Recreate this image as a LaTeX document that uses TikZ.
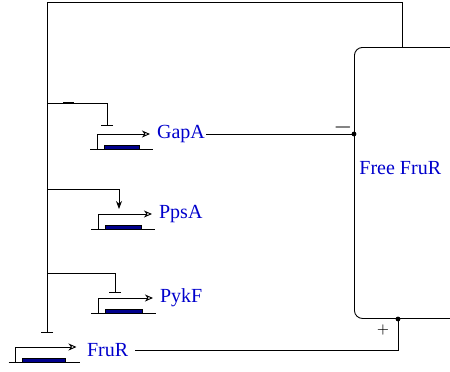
\documentclass[tikz,border=0pt]{standalone}
\usepackage{fontspec}
\setmainfont{Liberation Serif}
\usetikzlibrary{arrows.meta}
\def\genecolor{blue!80!black}
\def\cdscolor{blue!55!black}
\newcommand{\gene}[3]{%
	\draw (#1 - 7, #2 + 15) -- (#1 + #3 + 3, #2 + 15);
	\draw[fill = \cdscolor] (#1 + 7, #2 + 11) rectangle (#1 + #3 - 11, #2 + 15);
	\draw[-{Stealth[open, length = 4pt, width = 3.5pt, inset = 1.2pt]}] (#1, #2 + 15) -- (#1, #2) -- (#1 + #3, #2);
}

\begin{document}
\begin{tikzpicture}[x = 0.5pt, y = -0.5pt, line width = 0.45pt,
		inhibit/.style = {-{Bar[width = 6pt]}},
		activate/.style = {-{Stealth[length = 4pt, width = 3pt]}},
		genename/.style = {text = \genecolor, anchor = west}]
		\clip (0, 0) rectangle (450, 371);
		\gene{97}{134}{53}
		\gene{98}{214}{54}
		\gene{98}{298}{55}
		\gene{15.5}{347}{61}
		\node[genename] (gapA) at (150, 134) {GapA};
		\node[genename] (ppsA) at (152, 214) {PpsA};
		\node[genename] (pykF) at (153, 298) {PykF};
		\node[genename] (frur) at (80, 350) {FruR};
		\node[draw, rounded corners = 4pt, anchor = north west, minimum width = 100pt, minimum height = 135.5pt, inner sep = 0pt] (free) at (354, 47) {};
		\node[text = \genecolor, anchor = west, inner sep = 0pt] (freename) at (359, 168) {Free FruR};
		\coordinate (top) at (47, 2);
		\coordinate (fbtop) at (402, 47);
		\coordinate (fbend) at (47, 333);
		\draw[inhibit] (fbtop) |- (top) -- (fbend);
		\coordinate (gapAbr) at (47, 103);
		\coordinate (gapAreg) at (107, 126);
		\coordinate (ppsAbr) at (47, 189);
		\coordinate (ppsAreg) at (119, 209);
		\coordinate (pykFbr) at (47, 273);
		\coordinate (pykFreg) at (115, 293);
		\draw[inhibit] (gapAbr) -| (gapAreg);
		\draw[line width = 1.1pt] (63, 103) -- (74, 103);
		\draw[activate] (ppsAbr) -| (ppsAreg);
		\draw[inhibit] (pykFbr) -| (pykFreg);
		\draw ([xshift = -3pt] gapA.east) -- (gapA.east -| free.west) coordinate (gapAin);
		\fill (gapAin) circle (1.2pt);
		\node[font = \large] (minus) at (343, 127) {$-$};
		\coordinate (frurin) at (398, 319);
		\draw (frur.east) -| (frurin);
		\fill (frurin) circle (1.2pt);
		\node[font = \scriptsize] (plus) at (383, 330) {$+$};
	\end{tikzpicture}
\end{document}
